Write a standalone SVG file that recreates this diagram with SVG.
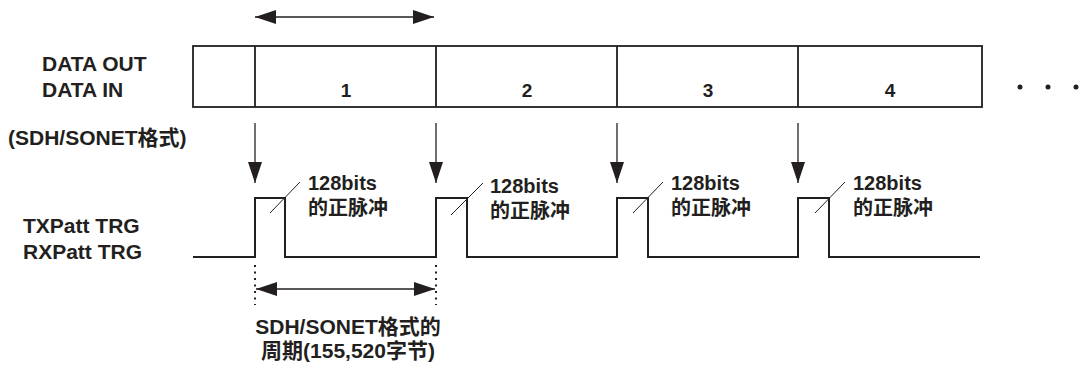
<svg xmlns="http://www.w3.org/2000/svg" width="1085" height="367" viewBox="0 0 1085 367">
<style>
text{font-family:"Liberation Sans","Noto Sans CJK SC",sans-serif;font-weight:bold;fill:#231f20}
.lbl{font-size:20px}
.big{font-size:21px}
.num{font-size:19px;text-anchor:middle}
.box{fill:none;stroke:#231f20;stroke-width:1.8}
.wave{fill:none;stroke:#231f20;stroke-width:2}
.arr{fill:none;stroke:#231f20;stroke-width:1.3}
.tick{fill:none;stroke:#231f20;stroke-width:1}
.dot{fill:none;stroke:#231f20;stroke-width:2;stroke-dasharray:2 4.5}
</style>
<defs>
<marker id="ah" markerUnits="userSpaceOnUse" markerWidth="22" markerHeight="16" refX="21" refY="7" orient="auto-start-reverse" viewBox="0 0 22 14">
<path d="M0,0 L21,7 L0,14 Z" fill="#231f20"/>
</marker>
</defs>
<g id="labels">
<text class="big" x="42" y="71">DATA OUT</text>
<text class="big" x="42" y="97">DATA IN</text>
<text class="big" x="8" y="145">(SDH/SONET格式)</text>
<text class="big" x="23" y="233">TXPatt TRG</text>
<text class="big" x="23" y="259">RXPatt TRG</text>
</g>
<g id="data-frame">
<rect class="box" x="193" y="46" width="789" height="61"/>
<line class="box" x1="255" y1="46" x2="255" y2="107"/>
<line class="box" x1="436" y1="46" x2="436" y2="107"/>
<line class="box" x1="617" y1="46" x2="617" y2="107"/>
<line class="box" x1="798" y1="46" x2="798" y2="107"/>
<text class="num" x="346" y="97">1</text>
<text class="num" x="527" y="97">2</text>
<text class="num" x="708" y="97">3</text>
<text class="num" x="890" y="97">4</text>
<circle cx="1020" cy="87" r="2.5" fill="#231f20"/>
<circle cx="1048" cy="87" r="2.5" fill="#231f20"/>
<circle cx="1076" cy="87" r="2.5" fill="#231f20"/>
</g>
<g id="trigger-wave">
<path class="wave" d="M193,257 H255 V198 H285 V257 H436 V198 H467 V257 H617 V198 H648 V257 H798 V198 H829 V257 H980"/>
</g>
<g id="pulse-labels">
<line class="tick" x1="270" y1="213" x2="300" y2="182"/>
<text class="lbl" x="308" y="190">128bits</text>
<text class="lbl" x="308" y="215">的正脉冲</text>
<line class="tick" x1="451" y1="215" x2="483" y2="183"/>
<text class="lbl" x="490" y="193">128bits</text>
<text class="lbl" x="490" y="218">的正脉冲</text>
<line class="tick" x1="633" y1="213" x2="663" y2="182"/>
<text class="lbl" x="671" y="190">128bits</text>
<text class="lbl" x="671" y="215">的正脉冲</text>
<line class="tick" x1="815" y1="213" x2="845" y2="182"/>
<text class="lbl" x="853" y="190">128bits</text>
<text class="lbl" x="853" y="215">的正脉冲</text>
</g>
<g id="connectors">
<line class="arr" x1="255" y1="17" x2="434" y2="17" marker-start="url(#ah)" marker-end="url(#ah)"/>
<line class="arr" x1="255" y1="123" x2="255" y2="183" marker-end="url(#ah)"/>
<line class="arr" x1="436" y1="123" x2="436" y2="183" marker-end="url(#ah)"/>
<line class="arr" x1="617" y1="123" x2="617" y2="183" marker-end="url(#ah)"/>
<line class="arr" x1="798" y1="123" x2="798" y2="183" marker-end="url(#ah)"/>
<line class="dot" x1="255" y1="265" x2="255" y2="305"/>
<line class="dot" x1="436" y1="265" x2="436" y2="305"/>
<line class="arr" x1="256" y1="289" x2="435" y2="289" marker-start="url(#ah)" marker-end="url(#ah)"/>
</g>
<g id="period-label">
<text class="big" x="348" y="334" text-anchor="middle">SDH/SONET格式的</text>
<text class="big" x="348" y="358" text-anchor="middle">周期(155,520字节)</text>
</g>
</svg>
